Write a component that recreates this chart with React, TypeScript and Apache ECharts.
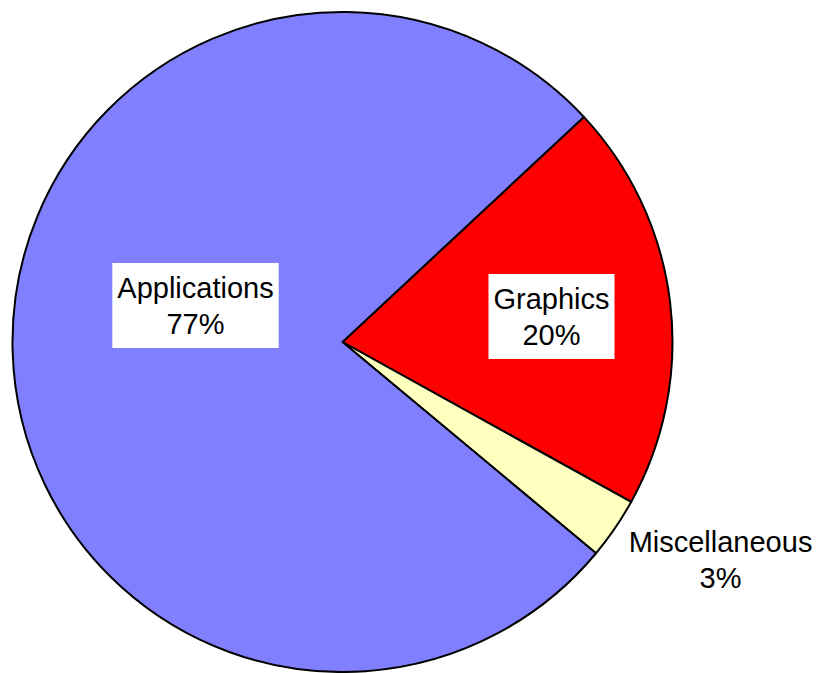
import React, { useEffect, useRef } from "react";
import * as echarts from "echarts";

const categories = ["Graphics", "Miscellaneous", "Applications"];
const values = [20, 3, 77];
const colors = ["#FF0000", "#FFFFC0", "#8080FF"];
const labelBoxed = [true, false, true];
const labelCenters: [number, number][] = [
  [551.5, 316.5],
  [720.5, 559.6],
  [195.5, 305.5],
];

export default function App() {
  const ref = useRef<HTMLDivElement>(null);
  useEffect(() => {
    document.body.style.margin = "0";
    const chart = echarts.init(ref.current!, null, { renderer: "svg" });
    chart.setOption({
      animation: false,
      backgroundColor: "#ffffff",
      series: [
        {
          type: "pie",
          center: [342.5, 342],
          radius: 330,
          startAngle: 43,
          clockwise: true,
          avoidLabelOverlap: false,
          emphasis: { disabled: true },
          itemStyle: { borderColor: "#000000", borderWidth: 2 },
          labelLine: { show: false },
          label: {
            show: true,
            fontFamily: "Liberation Sans, Arial, sans-serif",
            fontSize: 29,
            lineHeight: 36,
            color: "#000000",
            align: "center",
            formatter: (p: any) => `${p.name}\n${Math.round(p.percent)}%`,
          },
          labelLayout: (params: any) => {
            const c = labelCenters[params.dataIndex];
            return { x: c[0], y: c[1], align: "center", verticalAlign: "middle" };
          },
          data: categories.map((name, i) => ({
            name,
            value: values[i],
            itemStyle: { color: colors[i] },
            label: labelBoxed[i]
              ? { position: "inside", backgroundColor: "#ffffff", padding: [6.5, 5] }
              : { position: "outside" },
          })),
        },
      ],
    });
    return () => chart.dispose();
  }, []);
  return <div ref={ref} style={{ width: 817, height: 673 }} />;
}
